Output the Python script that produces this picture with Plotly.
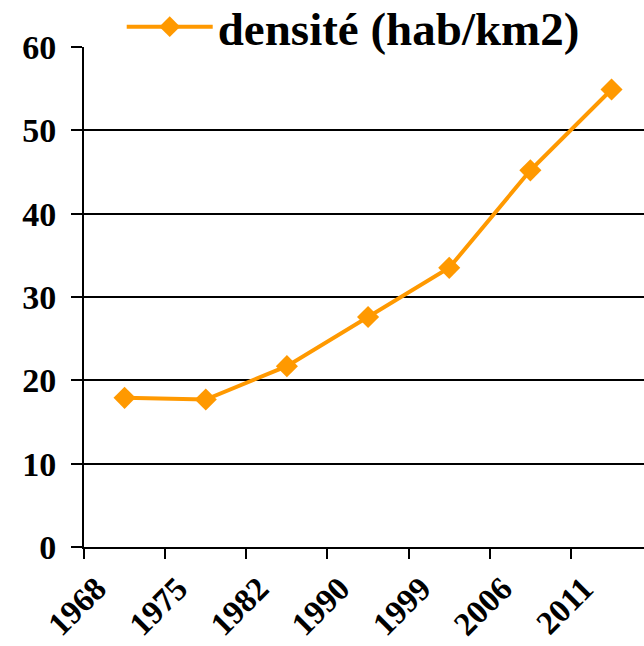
import plotly.graph_objects as go

years = ["1968", "1975", "1982", "1990", "1999", "2006", "2011"]
densite = [17.9, 17.7, 21.7, 27.6, 33.5, 45.2, 54.9]
y_ticks = [0, 10, 20, 30, 40, 50, 60]
grid_vals = [10, 20, 30, 40, 50]
series_name = "densité (hab/km2)"

ORANGE = "#FF9900"
FONT = "Liberation Serif"

fig = go.Figure()
fig.add_trace(go.Scatter(
    x=years, y=densite, mode="lines+markers", name=series_name,
    line=dict(color=ORANGE, width=4),
    marker=dict(symbol="diamond", size=17, color=ORANGE),
))

fig.update_layout(
    width=644, height=646,
    margin=dict(l=84, r=0, t=47, b=99, autoexpand=False),
    paper_bgcolor="white", plot_bgcolor="white",
    font=dict(family=FONT, color="black"),
    showlegend=True,
    legend=dict(
        orientation="h", xref="container", yref="container",
        x=0.189, xanchor="left", y=0.958, yanchor="middle",
        font=dict(family=FONT, size=47, color="black", weight="bold"),
        itemwidth=86, bgcolor="rgba(0,0,0,0)",
    ),
    xaxis=dict(
        type="category", range=[-0.5, 6.4], automargin=False,
        tickson="boundaries", ticks="outside", ticklen=10, tickwidth=2, tickcolor="black",
        showline=True, linecolor="black", linewidth=2,
        showgrid=False, zeroline=False,
        tickangle=-45, ticklabelshift=-28, ticklabelstandoff=7,
        tickfont=dict(family=FONT, size=33, color="black", weight="bold"),
    ),
    yaxis=dict(
        range=[0, 60], tickmode="array", tickvals=y_ticks, automargin=False,
        ticks="outside", ticklen=11, tickwidth=2, tickcolor="black",
        showline=True, linecolor="black", linewidth=2,
        showgrid=False, zeroline=False, ticklabelstandoff=8,
        tickfont=dict(family=FONT, size=34, color="black", weight="bold"),
        minor=dict(tickmode="array", tickvals=grid_vals, showgrid=True,
                   gridcolor="black", gridwidth=2, ticks=""),
    ),
)

fig.write_html("out.html", config={"displayModeBar": False},
               post_script="document.body.style.margin='0px';")
